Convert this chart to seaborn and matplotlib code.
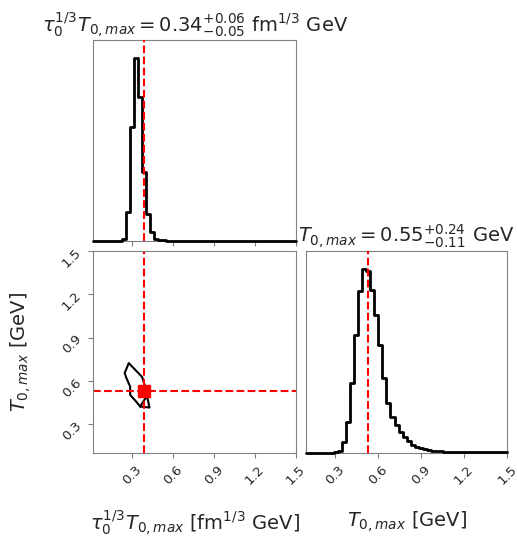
import numpy as np
import pandas as pd
import matplotlib
matplotlib.use("Agg")
import matplotlib.pyplot as plt
import seaborn as sns

# binned marginal posteriors (normalised to peak)
tau_edges = np.linspace(0.02, 1.5, 51)
tau_counts = [0, 0, 0, 0, 0, 0, 0, 0.01, 0.158, 0.625,
              1.0, 0.79, 0.38, 0.15, 0.05, 0.013, 0.005, 0.003, 0.002, 0.001,
              0, 0, 0, 0, 0, 0, 0, 0, 0, 0,
              0, 0, 0, 0, 0, 0, 0, 0, 0, 0,
              0, 0, 0, 0, 0, 0, 0, 0, 0, 0]

T_edges = np.linspace(0.1, 1.5, 51)
T_counts = [0, 0, 0, 0, 0, 0.001, 0.002, 0.004, 0.009, 0.058,
            0.171, 0.38, 0.645, 0.88, 1.0, 0.99, 0.89, 0.75, 0.59, 0.41,
            0.27, 0.195, 0.15, 0.113, 0.085, 0.064, 0.045, 0.035, 0.025, 0.02,
            0.016, 0.013, 0.011, 0.009, 0.008, 0.007, 0.006, 0.005, 0.005, 0.004,
            0.004, 0.004, 0.003, 0.003, 0.003, 0.003, 0.003, 0.003, 0.003, 0.003]

# 2D credible contour (traced as one polyline)
contour_tau = [0.412, 0.362, 0.430, 0.412, 0.406, 0.377, 0.279, 0.249,
               0.260, 0.289, 0.289, 0.333, 0.362]
contour_T = [0.496, 0.422, 0.415, 0.496, 0.537, 0.626, 0.723, 0.654,
             0.623, 0.560, 0.503, 0.456, 0.422]

truth_tau = 0.39
truth_T = 0.53

ticks = [0.3, 0.6, 0.9, 1.2, 1.5]
tick_labels = ["0.3", "0.6", "0.9", "1.2", "1.5"]

title_tau = r"$\tau_0^{1/3}T_{0,max} = 0.34^{+0.06}_{-0.05}$ fm$^{1/3}$ GeV"
title_T = r"$T_{0,max} = 0.55^{+0.24}_{-0.11}$ GeV"
label_tau = r"$\tau_0^{1/3}T_{0,max}$ [fm$^{1/3}$ GeV]"
label_T = r"$T_{0,max}$ [GeV]"

sns.set_style("ticks")
plt.rcParams.update({
    "axes.edgecolor": "0.5",
    "xtick.color": "0.5",
    "ytick.color": "0.5",
    "xtick.labelcolor": "#262626",
    "ytick.labelcolor": "#262626",
    "text.color": "#262626",
    "axes.labelcolor": "#262626",
})
plt.rcParams["font.family"] = ["DejaVu Sans"]

fig = plt.figure(figsize=(5.17, 5.36), dpi=100)
ax_tau = fig.add_axes([0.1805, 0.5504, 0.392, 0.375])
ax_2d = fig.add_axes([0.1805, 0.1549, 0.392, 0.3769])
ax_T = fig.add_axes([0.5919, 0.1549, 0.389, 0.3769])


def step_hist(ax, edges, counts):
    # step outline: one height per bin, repeated at the last edge
    df = pd.DataFrame({"edge": edges, "height": list(counts) + [counts[-1]]})
    sns.lineplot(data=df, x="edge", y="height", drawstyle="steps-post",
                 estimator=None, sort=False, color="black", linewidth=2,
                 zorder=3, clip_on=False, ax=ax)
    ax.set_ylim(0, 1.1 * max(counts))
    ax.set_yticks([])
    ax.set_ylabel("")


step_hist(ax_tau, tau_edges, tau_counts)
ax_tau.axvline(truth_tau, color="red", ls="--", lw=1.5, zorder=4)
ax_tau.set_xlim(0.02, 1.5)
ax_tau.set_xticks(ticks)
ax_tau.set_xticklabels([])
ax_tau.set_xlabel("")
ax_tau.set_title(title_tau, fontsize=14)

step_hist(ax_T, T_edges, T_counts)
ax_T.axvline(truth_T, color="red", ls="--", lw=1.5, zorder=4)
ax_T.set_xlim(0.1, 1.5)
ax_T.set_xticks(ticks)
ax_T.set_xticklabels(tick_labels, rotation=45)
ax_T.set_xlabel(label_T, fontsize=14)
ax_T.xaxis.set_label_coords(0.5, -0.28)
ax_T.set_title(title_T, fontsize=14)

ax_2d.plot(contour_tau, contour_T, color="black", lw=1.5)
ax_2d.axvline(truth_tau, color="red", ls="--", lw=1.5)
ax_2d.axhline(truth_T, color="red", ls="--", lw=1.5)
ax_2d.plot(truth_tau, truth_T, "s", color="red", ms=8)
ax_2d.set_xlim(0.02, 1.5)
ax_2d.set_ylim(0.1, 1.5)
ax_2d.set_xticks(ticks)
ax_2d.set_xticklabels(tick_labels, rotation=45)
ax_2d.set_yticks(ticks)
ax_2d.set_yticklabels(tick_labels, rotation=45)
ax_2d.set_xlabel(label_tau, fontsize=14)
ax_2d.set_ylabel(label_T, fontsize=14)
ax_2d.xaxis.set_label_coords(0.5, -0.28)
ax_2d.yaxis.set_label_coords(-0.3, 0.5)

for ax in (ax_tau, ax_2d, ax_T):
    ax.tick_params(labelsize=9.5)

fig.savefig("out.png", dpi=100)
